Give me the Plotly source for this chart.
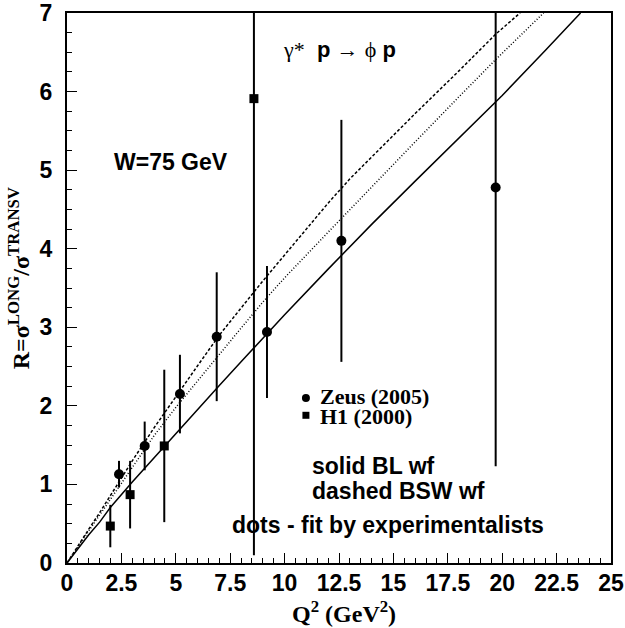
import plotly.graph_objects as go

# ---- data ----
zeus_q2 = [2.39, 3.57, 5.19, 6.88, 9.19, 12.61, 19.70]
zeus_r = [1.13, 1.49, 2.15, 2.88, 2.94, 4.10, 4.78]
zeus_err = [0.17, 0.31, 0.50, 0.82, 0.84, 1.54, 3.55]

h1_q2 = [1.99, 2.90, 4.47, 8.59]
h1_r = [0.47, 0.87, 1.49, 5.91]
h1_err = [0.27, 0.43, 0.97, 5.81]

bl_q2 = [0, 0.5, 1, 1.5, 2, 3, 4, 5, 6, 7, 8, 9, 10, 12, 14, 16, 18, 20, 22, 23.6]
bl_r = [0, 0.18, 0.36, 0.52, 0.71, 1.03, 1.34, 1.65, 1.96, 2.26, 2.56, 2.86, 3.16, 3.74, 4.31, 4.86, 5.41, 5.95, 6.53, 7.0]

bsw_q2 = [0, 0.5, 1, 1.5, 2, 2.5, 3, 4, 5, 6, 7, 8, 9, 10, 11, 12, 13, 14, 16, 18, 19.7, 20.82]
bsw_r = [0, 0.22, 0.43, 0.64, 0.86, 1.08, 1.30, 1.72, 2.12, 2.51, 2.90, 3.25, 3.59, 3.92, 4.25, 4.58, 4.89, 5.17, 5.72, 6.26, 6.73, 7.0]

fit_q2 = [0, 0.5, 1, 1.5, 2, 2.5, 3, 4, 5, 6, 7, 8, 9, 10, 12, 14, 16, 18, 19.71, 21.9]
fit_r = [0, 0.21, 0.41, 0.61, 0.81, 1.01, 1.21, 1.62, 1.98, 2.32, 2.66, 2.99, 3.32, 3.63, 4.21, 4.79, 5.36, 5.93, 6.41, 7.0]

x_ticks = [0, 2.5, 5, 7.5, 10, 12.5, 15, 17.5, 20, 22.5, 25]
x_ticktext = ["0", "2.5", "5", "7.5", "10", "12.5", "15", "17.5", "20", "22.5", "25"]
y_ticks = [0, 1, 2, 3, 4, 5, 6, 7]
y_ticktext = ["0", "1", "2", "3", "4", "5", "6", "7"]

SANS = "Liberation Sans, Arial, sans-serif"
SERIF = "Liberation Serif, Times New Roman, serif"

fig = go.Figure()

fig.add_trace(go.Scatter(x=bl_q2, y=bl_r, mode="lines",
                         line=dict(color="black", width=1.5), showlegend=False))
fig.add_trace(go.Scatter(x=bsw_q2, y=bsw_r, mode="lines",
                         line=dict(color="black", width=1.5, dash="3px,2px"), showlegend=False))
fig.add_trace(go.Scatter(x=fit_q2, y=fit_r, mode="lines",
                         line=dict(color="black", width=1.5, dash="1px,2px"), showlegend=False))

fig.add_trace(go.Scatter(x=zeus_q2, y=zeus_r, mode="markers",
                         marker=dict(symbol="circle", size=10, color="black"),
                         error_y=dict(type="data", array=zeus_err, visible=True,
                                      thickness=2, width=0, color="black"),
                         showlegend=False))
fig.add_trace(go.Scatter(x=h1_q2, y=h1_r, mode="markers",
                         marker=dict(symbol="square", size=9, color="black"),
                         error_y=dict(type="data", array=h1_err, visible=True,
                                      thickness=2, width=0, color="black"),
                         showlegend=False))

axis_common = dict(showgrid=False, zeroline=False, showline=True, linecolor="black",
                   linewidth=2, mirror=True, ticks="inside", tickcolor="black",
                   tickwidth=1, ticklen=10, automargin=False,
                   tickfont=dict(family=SANS, size=23, color="black", weight="bold"))

fig.update_xaxes(range=[0, 25], tickvals=x_ticks, ticktext=x_ticktext,
                 minor=dict(dtick=0.5, ticks="inside", ticklen=5, tickcolor="black", tickwidth=1),
                 ticklabelstandoff=-2, **axis_common)
fig.update_yaxes(range=[0, 7], tickvals=y_ticks, ticktext=y_ticktext,
                 minor=dict(dtick=0.25, ticks="inside", ticklen=5, tickcolor="black", tickwidth=1),
                 ticklabelstandoff=8, **axis_common)

annotations = [
    dict(text="W=75 GeV", x=4.78, y=5.10, xref="x", yref="y", showarrow=False,
         font=dict(family=SANS, size=23, color="black", weight="bold")),
    dict(text="<span style='font-family:Liberation Serif'>γ*</span>  <b>p</b> → "
              "<span style='font-family:Liberation Serif'>ϕ</span> <b>p</b>",
         x=12.52, y=6.54, xref="x", yref="y", showarrow=False,
         font=dict(family=SANS, size=22, color="black")),
    dict(text="Zeus (2005)", x=11.53, y=2.12, xref="x", yref="y", showarrow=False, xanchor="left",
         font=dict(family=SERIF, size=22, color="black", weight="bold")),
    dict(text="H1 (2000)", x=11.53, y=1.87, xref="x", yref="y", showarrow=False, xanchor="left",
         font=dict(family=SERIF, size=22, color="black", weight="bold")),
    dict(text="solid BL wf", x=11.17, y=1.24, xref="x", yref="y", showarrow=False, xanchor="left",
         font=dict(family=SANS, size=23, color="black", weight="bold")),
    dict(text="dashed BSW wf", x=11.17, y=0.92, xref="x", yref="y", showarrow=False, xanchor="left",
         font=dict(family=SANS, size=23, color="black", weight="bold")),
    dict(text="dots - fit by experimentalists", x=14.75, y=0.48, xref="x", yref="y", showarrow=False,
         font=dict(family=SANS, size=23, color="black", weight="bold")),
    dict(text="Q<sup>2</sup> (GeV<sup>2</sup>)", x=0.509, y=-0.089, xref="paper", yref="paper",
         showarrow=False, yanchor="middle",
         font=dict(family=SERIF, size=24, color="black", weight="bold")),
    dict(text="R=σ<sup>LONG</sup>/σ<sup>TRANSV</sup>", x=-0.088, y=0.518, xref="paper", yref="paper",
         showarrow=False, textangle=-90, xanchor="center", yanchor="middle",
         font=dict(family=SERIF, size=24, color="black", weight="bold")),
]

shapes = [
    dict(type="circle", xref="x", yref="y", xsizemode="pixel", ysizemode="pixel",
         xanchor=10.98, yanchor=2.10, x0=-4, x1=4, y0=-4, y1=4,
         fillcolor="black", line=dict(width=0)),
    dict(type="rect", xref="x", yref="y", xsizemode="pixel", ysizemode="pixel",
         xanchor=10.98, yanchor=1.88, x0=-3.5, x1=3.5, y0=-3.5, y1=3.5,
         fillcolor="black", line=dict(width=0)),
]

fig.update_layout(width=625, height=628, margin=dict(l=67, r=14, t=13, b=65, autoexpand=False),
                  paper_bgcolor="white", plot_bgcolor="white",
                  annotations=annotations, shapes=shapes, showlegend=False)

fig.write_html("out.html")
